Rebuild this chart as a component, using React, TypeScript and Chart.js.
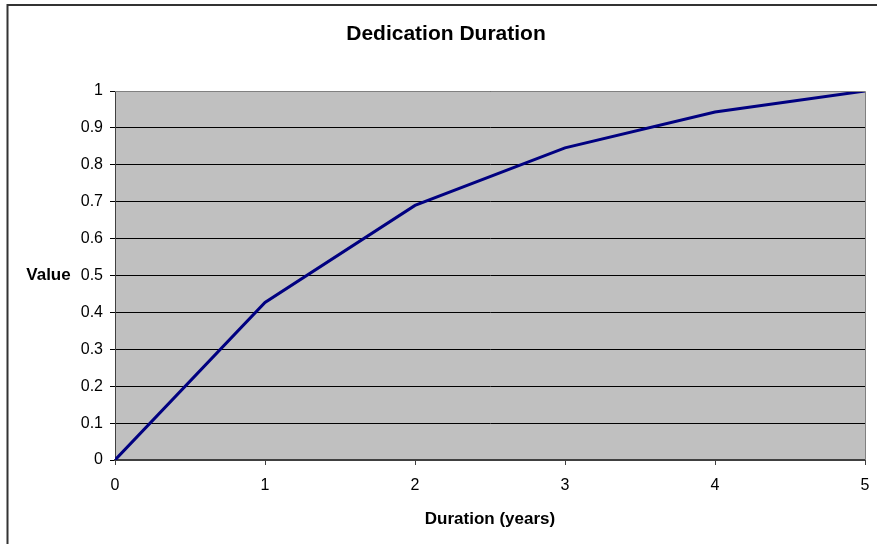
import React, { useEffect, useRef } from "react";
import { Chart, registerables } from "chart.js";

Chart.register(...registerables);

const chartTitle = "Dedication Duration";
const xAxisTitle = "Duration (years)";
const yAxisTitle = "Value";
const xValues = [0, 1, 2, 3, 4, 5];
const yValues = [0, 0.427, 0.69, 0.846, 0.943, 1.0];
const xTickLabels = ["0", "1", "2", "3", "4", "5"];
const yTickLabels = ["0", "0.1", "0.2", "0.3", "0.4", "0.5", "0.6", "0.7", "0.8", "0.9", "1"];

const FONT = "Arial, 'Liberation Sans', sans-serif";

const framePlugin = {
  id: "framePlugin",
  beforeDraw(chart: any) {
    const { ctx, chartArea } = chart;
    ctx.save();
    ctx.fillStyle = "#ffffff";
    ctx.fillRect(0, 0, chart.width, chart.height);
    ctx.fillStyle = "#C0C0C0";
    ctx.fillRect(chartArea.left, chartArea.top, chartArea.right - chartArea.left, chartArea.bottom - chartArea.top);
    ctx.restore();
  },
  afterDraw(chart: any) {
    const { ctx, chartArea } = chart;
    ctx.save();
    // plot area top/right border
    ctx.strokeStyle = "#808080";
    ctx.lineWidth = 1;
    ctx.beginPath();
    ctx.moveTo(chartArea.left, chartArea.top + 0.5);
    ctx.lineTo(chartArea.right + 0.5, chartArea.top + 0.5);
    ctx.lineTo(chartArea.right + 0.5, chartArea.bottom);
    ctx.stroke();
    // outer chart frame
    ctx.strokeStyle = "#333333";
    ctx.lineWidth = 2;
    ctx.strokeRect(7.5, 5, 1000, 1000);
    // horizontal y-axis title
    ctx.fillStyle = "#000000";
    ctx.font = "bold 17px " + FONT;
    ctx.textAlign = "center";
    ctx.textBaseline = "middle";
    ctx.fillText(yAxisTitle, 48.5, (chartArea.top + chartArea.bottom) / 2);
    ctx.restore();
  },
};

export default function App() {
  const ref = useRef<HTMLCanvasElement | null>(null);
  useEffect(() => {
    if (!ref.current) return;
    const data = xValues.map((x, i) => ({ x, y: yValues[i] }));
    const chart = new Chart(ref.current, {
      type: "line",
      data: {
        datasets: [
          {
            data,
            borderColor: "#000080",
            borderWidth: 3,
            pointRadius: 0,
            tension: 0,
            fill: false,
          },
        ],
      },
      options: {
        animation: false,
        responsive: false,
        maintainAspectRatio: false,
        layout: { padding: { left: 27, right: 12, top: 0, bottom: 0 } },
        plugins: {
          legend: { display: false },
          tooltip: { enabled: false },
          title: {
            display: true,
            text: chartTitle,
            color: "#000000",
            font: { family: FONT, size: 21, weight: "bold" },
            padding: { top: 21.6, bottom: 44.2 },
          },
        },
        scales: {
          x: {
            type: "linear",
            min: 0,
            max: 5,
            afterFit: (s: any) => {
              s.height = 84;
              s.paddingLeft = 0;
              s.paddingRight = 0;
            },
            ticks: {
              stepSize: 1,
              color: "#000000",
              font: { family: FONT, size: 16 },
              padding: 11,
              maxRotation: 0,
              callback: (_v: any, i: number) => xTickLabels[i],
            },
            grid: {
              drawOnChartArea: false,
              drawTicks: true,
              tickLength: 5,
              color: "#404040",
            },
            border: { color: "#404040", width: 2 },
            title: {
              display: true,
              text: xAxisTitle,
              color: "#000000",
              font: { family: FONT, size: 17, weight: "bold" },
              padding: { top: 4, bottom: 14.8 },
            },
          },
          y: {
            type: "linear",
            min: 0,
            max: 1,
            afterFit: (s: any) => {
              s.width = 88;
              s.paddingTop = 0;
              s.paddingBottom = 0;
            },
            ticks: {
              stepSize: 0.1,
              color: "#000000",
              font: { family: FONT, size: 16 },
              padding: 7,
              callback: (_v: any, i: number) => yTickLabels[i],
            },
            grid: {
              drawOnChartArea: true,
              drawTicks: true,
              tickLength: 5,
              color: "#000000",
              lineWidth: 1,
            },
            border: { color: "#404040", width: 1 },
          },
        },
      },
      plugins: [framePlugin],
    });
    return () => chart.destroy();
  }, []);
  return (
    <div style={{ position: "fixed", left: 0, top: 0, width: 877, height: 544, background: "#fff" }}>
      <canvas ref={ref} width={877} height={544} style={{ display: "block", width: 877, height: 544 }} />
    </div>
  );
}
